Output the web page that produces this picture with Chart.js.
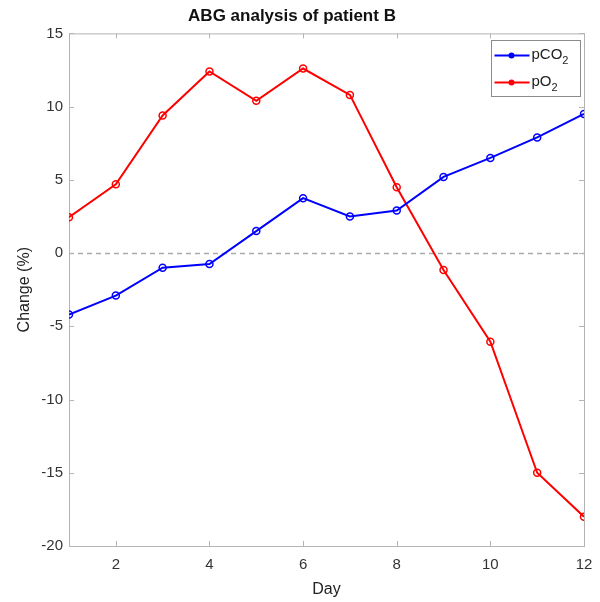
<!DOCTYPE html>
<html>
<head>
<meta charset="utf-8">
<script src="https://cdn.jsdelivr.net/npm/chart.js@4/dist/chart.umd.min.js"></script>
<style>
  html, body { margin: 0; padding: 0; background: #fff; }
  #wrap { width: 600px; height: 602px; }
</style>
</head>
<body>
<div id="wrap"><canvas id="LineChart"></canvas></div>
<script>
const days = [1, 2, 3, 4, 5, 6, 7, 8, 9, 10, 11, 12];
const pCO2 = [-4.2, -2.9, -1.0, -0.75, 1.5, 3.75, 2.5, 2.9, 5.2, 6.5, 7.9, 9.5];
const pO2 = [2.45, 4.7, 9.4, 12.4, 10.4, 12.6, 10.8, 4.5, -1.15, -6.05, -15.0, -18.0];
const xTicks = [2, 4, 6, 8, 10, 12];
const yTicks = [-20, -15, -10, -5, 0, 5, 10, 15];
const seriesNames = [['pCO', '2'], ['pO', '2']];

const FONT = "'Liberation Sans', Arial, sans-serif";

// box, inward ticks, dashed zero line and the legend
const frame = {
  id: 'frame',
  beforeDatasetsDraw(chart) {
    const {ctx, chartArea: a, scales: {x, y}} = chart;
    ctx.save();
    ctx.strokeStyle = '#aaaaaa';
    ctx.lineWidth = 1.5;
    ctx.setLineDash([5, 4]);
    const y0 = Math.round(y.getPixelForValue(0)) + 0.5;
    ctx.beginPath();
    ctx.moveTo(a.left, y0);
    ctx.lineTo(a.right, y0);
    ctx.stroke();
    ctx.setLineDash([]);

    ctx.strokeStyle = '#b4b4b4';
    ctx.lineWidth = 1;
    ctx.strokeRect(a.left + 0.5, a.top + 0.5, a.right - a.left, a.bottom - a.top);
    ctx.beginPath();
    xTicks.forEach(v => {
      const px = Math.round(x.getPixelForValue(v)) + 0.5;
      ctx.moveTo(px, a.bottom); ctx.lineTo(px, a.bottom - 5);
      ctx.moveTo(px, a.top); ctx.lineTo(px, a.top + 5);
    });
    yTicks.forEach(v => {
      const py = Math.round(y.getPixelForValue(v)) + 0.5;
      ctx.moveTo(a.left, py); ctx.lineTo(a.left + 5, py);
      ctx.moveTo(a.right, py); ctx.lineTo(a.right - 5, py);
    });
    ctx.stroke();
    ctx.restore();
  },
  afterDraw(chart) {
    const {ctx} = chart;
    const bx = 491.5, by = 40.5, bw = 89, bh = 56;
    ctx.save();
    ctx.fillStyle = '#fff';
    ctx.fillRect(bx, by, bw, bh);
    ctx.strokeStyle = '#8c8c8c';
    ctx.lineWidth = 1;
    ctx.strokeRect(bx, by, bw, bh);
    chart.data.datasets.forEach((ds, i) => {
      const cy = by + 15 + i * 27;
      ctx.strokeStyle = ds.borderColor;
      ctx.lineWidth = 2;
      ctx.beginPath();
      ctx.moveTo(bx + 3, cy);
      ctx.lineTo(bx + 38, cy);
      ctx.stroke();
      ctx.fillStyle = ds.borderColor;
      ctx.beginPath();
      ctx.arc(bx + 20, cy, 3, 0, Math.PI * 2);
      ctx.fill();
      const [main, sub] = seriesNames[i];
      ctx.fillStyle = '#222';
      ctx.textBaseline = 'middle';
      ctx.font = '15px ' + FONT;
      ctx.fillText(main, bx + 40, cy - 1);
      const w = ctx.measureText(main).width;
      ctx.font = '11px ' + FONT;
      ctx.fillText(sub, bx + 40 + w, cy + 5);
    });
    ctx.restore();
  }
};

new Chart(document.getElementById('LineChart'), {
  type: 'line',
  data: {
    datasets: [
      {
        label: 'pCO2',
        data: days.map((d, i) => ({x: d, y: pCO2[i]})),
        borderColor: '#0000ff',
        backgroundColor: '#0000ff',
        borderWidth: 2,
        pointRadius: 3.5,
        pointBorderWidth: 1.5,
        pointBackgroundColor: 'rgba(0,0,0,0)',
        tension: 0
      },
      {
        label: 'pO2',
        data: days.map((d, i) => ({x: d, y: pO2[i]})),
        borderColor: '#ff0000',
        backgroundColor: '#ff0000',
        borderWidth: 2,
        pointRadius: 3.5,
        pointBorderWidth: 1.5,
        pointBackgroundColor: 'rgba(0,0,0,0)',
        tension: 0
      }
    ]
  },
  options: {
    responsive: true,
    maintainAspectRatio: false,
    animation: false,
    devicePixelRatio: 1,
    layout: { padding: { top: 0, right: 16, left: 0, bottom: 0 } },
    plugins: {
      legend: { display: false },
      tooltip: { enabled: false },
      title: {
        display: true,
        text: 'ABG analysis of patient B',
        color: '#111',
        font: { family: FONT, size: 17, weight: 'bold' },
        padding: { top: 6, bottom: 7 }
      }
    },
    scales: {
      x: {
        type: 'linear',
        min: 1,
        max: 12,
        afterBuildTicks: s => { s.ticks = xTicks.map(v => ({value: v})); },
        afterFit: s => { s.height = 56; s.paddingRight = 0; s.paddingLeft = 0; },
        grid: { display: false, drawTicks: false },
        border: { display: false },
        ticks: { padding: 10, color: '#333', font: { family: FONT, size: 15 } },
        title: {
          display: true, text: 'Day', color: '#222',
          font: { family: FONT, size: 16 }, padding: { top: 0, bottom: 3 }
        }
      },
      y: {
        min: -20,
        max: 15,
        afterBuildTicks: s => { s.ticks = yTicks.map(v => ({value: v})); },
        afterFit: s => { s.width = 69; },
        grid: { display: false, drawTicks: false },
        border: { display: false },
        ticks: { padding: 6, color: '#333', font: { family: FONT, size: 15 } },
        title: {
          display: true, text: 'Change (%)', color: '#222',
          font: { family: FONT, size: 16 }, padding: { top: 15, bottom: 0 }
        }
      }
    }
  },
  plugins: [frame]
});
</script>
</body>
</html>
